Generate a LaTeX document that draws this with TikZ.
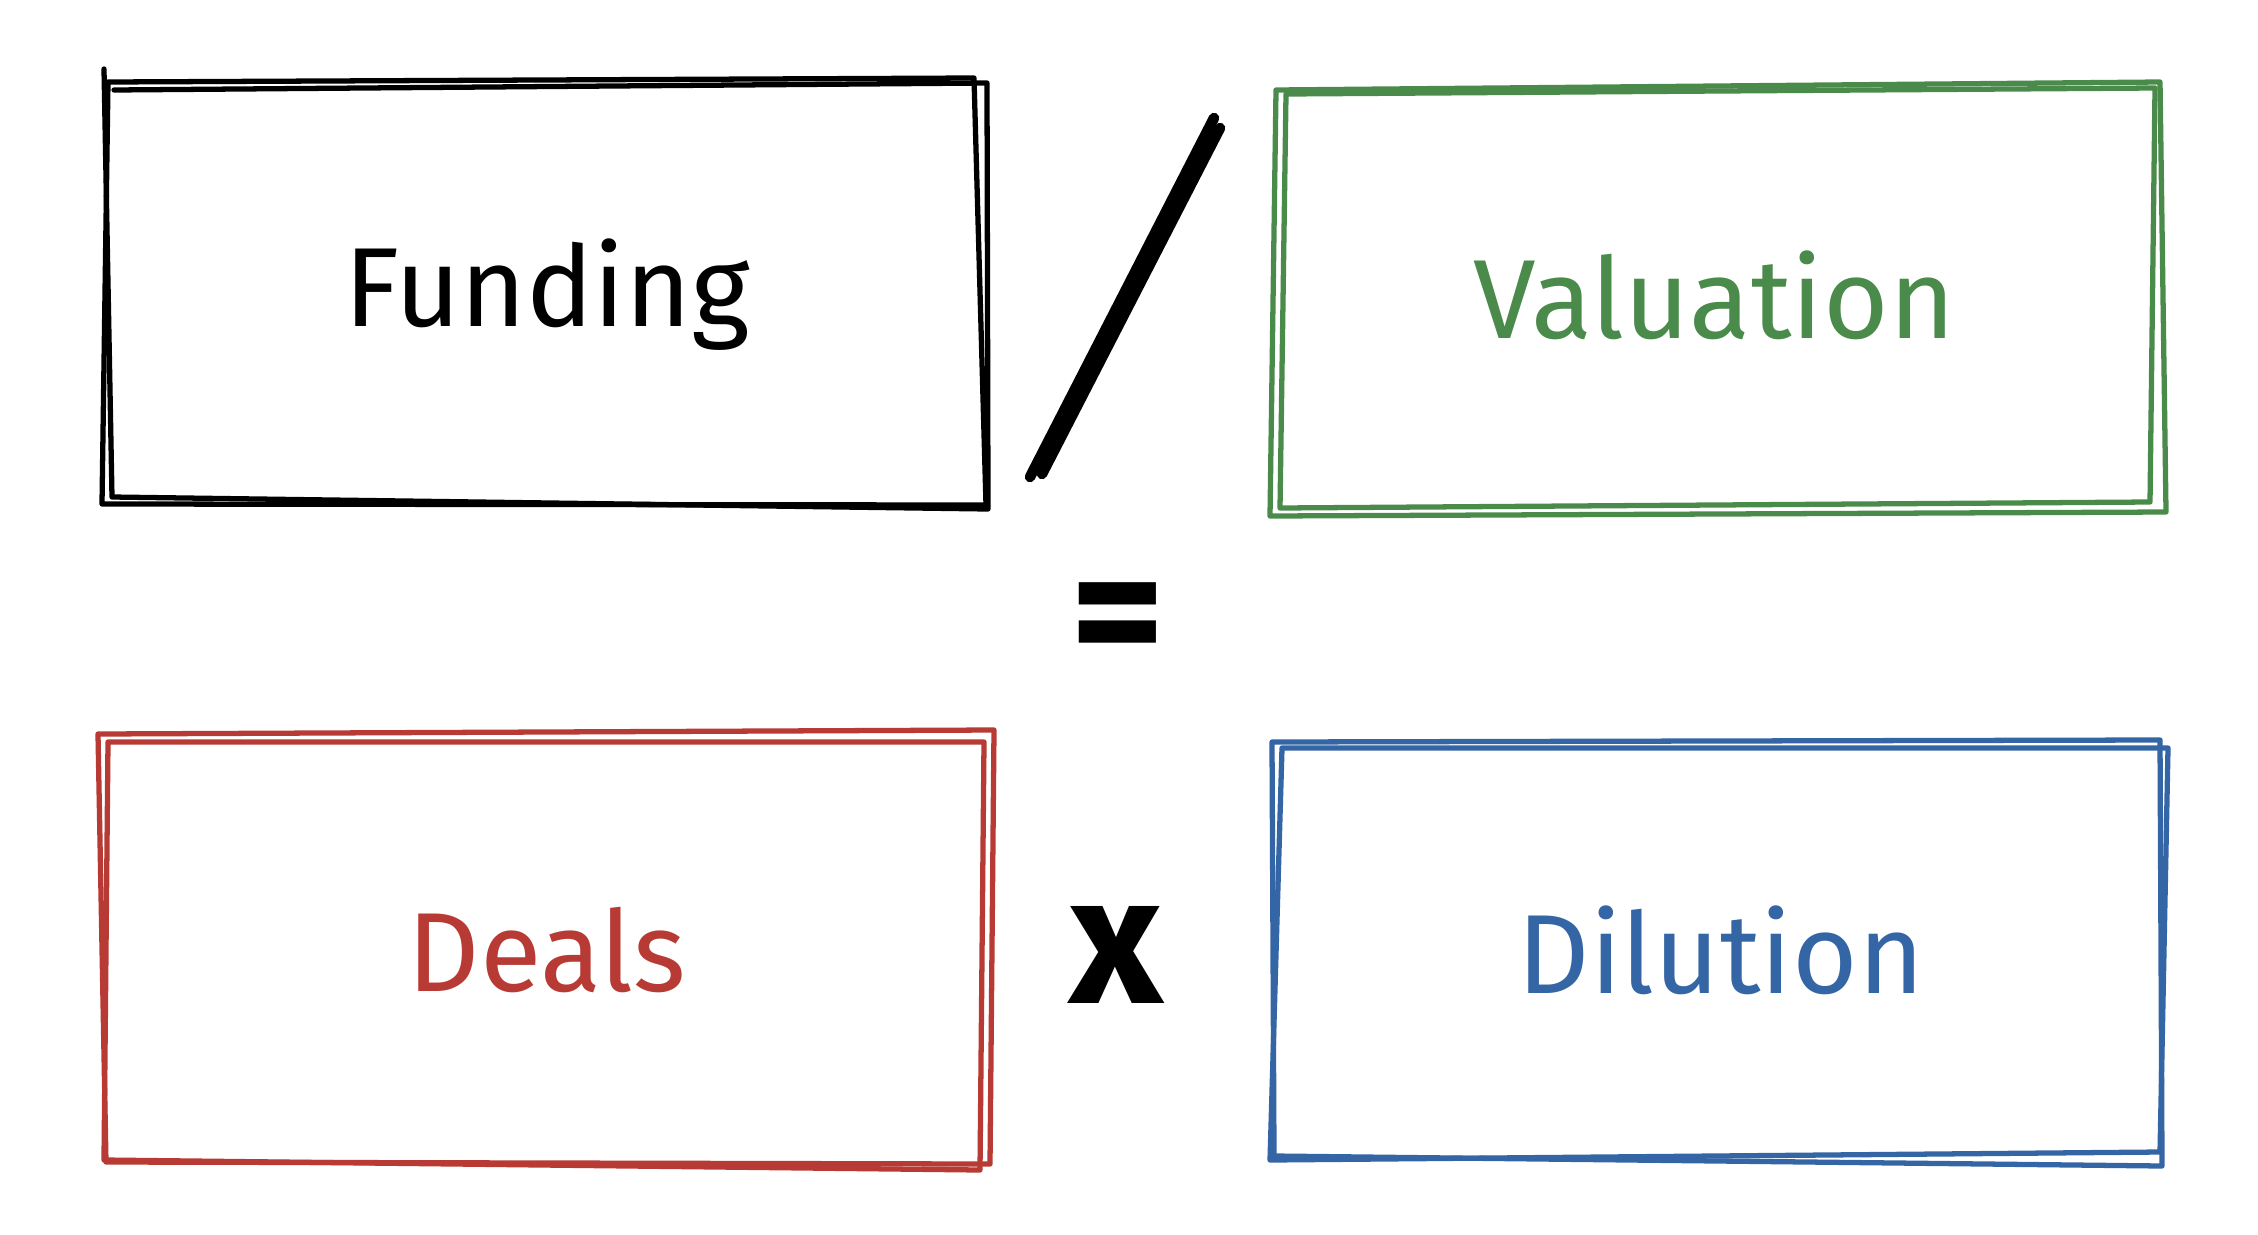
\documentclass[tikz,border=0pt]{standalone}
\usepackage{fontspec}
\setmainfont{Fira Sans}
\definecolor{inkgreen}{HTML}{4A8A4A}
\definecolor{inkred}{HTML}{B83A34}
\definecolor{inkblue}{HTML}{3465A4}
\begin{document}
\begin{tikzpicture}[x=0.1mm, y=0.1mm]
\tikzstyle{every node}+=[inner sep=0pt]
\tikzstyle{sketch}=[line width=1.5pt, line join=round, line cap=round]
\tikzstyle{word}=[font=\fontsize{32}{38}\selectfont]
\tikzstyle{sign}=[font=\fontsize{52}{60}\selectfont\bfseries]
\useasboundingbox (0,0) rectangle (2258,-1234);
% Funding
\draw[sketch] (108,-82) -- (974,-78) -- (986,-505) -- (102,-504) -- cycle;
\draw[sketch] (114,-90) -- (987,-83) -- (988,-509) -- (112,-497) -- (104,-69);
\node[word] (funding) at (547,-295) {Funding};
% Valuation
\draw[sketch, inkgreen] (1276,-90) -- (2160,-82) -- (2166,-512) -- (1270,-516) -- cycle;
\draw[sketch, inkgreen] (1286,-94) -- (2155,-88) -- (2150,-502) -- (1280,-508) -- cycle;
\node[word, inkgreen] (valuation) at (1714,-295) {Valuation};
% Deals
\draw[sketch, inkred] (98,-734) -- (994,-730) -- (990,-1164) -- (106,-1162) -- cycle;
\draw[sketch, inkred] (108,-742) -- (984,-742) -- (980,-1170) -- (104,-1160) -- cycle;
\node[word, inkred] (deals) at (547,-950) {Deals};
% Dilution
\draw[sketch, inkblue] (1272,-742) -- (2160,-740) -- (2162,-1166) -- (1274,-1156) -- cycle;
\draw[sketch, inkblue] (1282,-748) -- (2168,-748) -- (2160,-1152) -- (1270,-1160) -- cycle;
\node[word, inkblue] (dilution) at (1721,-950) {Dilution};
% operators
\draw[line width=3pt, line cap=round] (1030,-477) -- (1214,-118);
\draw[line width=3pt, line cap=round] (1042,-474) -- (1220,-128);
\node[sign] (equals) at (1118,-628) {=};
\node[sign] (times) at (1116,-955) {x};
\end{tikzpicture}
\end{document}
